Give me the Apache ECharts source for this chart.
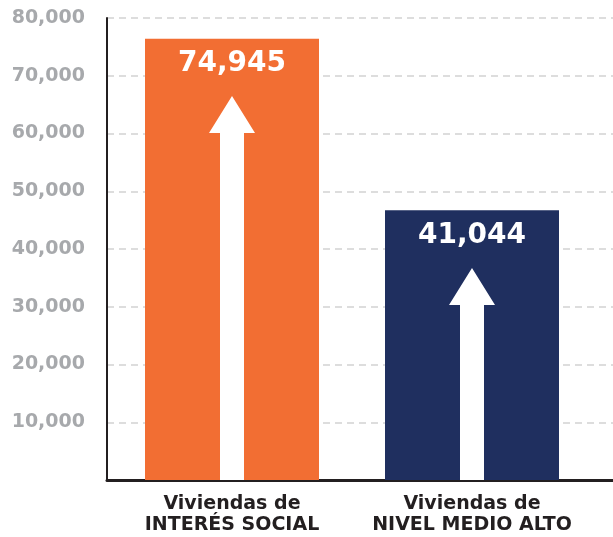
<!DOCTYPE html>
<html><head><meta charset="utf-8">
<script src="https://cdn.jsdelivr.net/npm/echarts@6/dist/echarts.min.js"></script>
<style>html,body{margin:0;padding:0;background:#fff}#c{width:613px;height:537px}</style>
</head><body><div id="c"></div>
<script>
const categories = ['Viviendas de\nINTERÉS SOCIAL', 'Viviendas de\nNIVEL MEDIO ALTO'];
const barValues = [76400, 46700];
const valueLabels = ['74,945', '41,044'];
const arrowTips = [66500, 36700];
const barColors = ['#F26E33', '#1F2F5F'];
const yTickLabels = ['', '10,000', '20,000', '30,000', '40,000', '50,000', '60,000', '70,000', '80,000'];

const FONT = 'DejaVu Sans';
const chart = echarts.init(document.getElementById('c'), null, {renderer: 'canvas'});
chart.setOption({
  animation: false,
  backgroundColor: '#ffffff',
  grid: [
    {left: 112, right: 21, top: 18, bottom: 57},
    {left: 107, right: 0, top: 18, bottom: 57}
  ],
  xAxis: [
    {type: 'category', gridIndex: 0, data: categories,
     axisLine: {show: false}, axisTick: {show: false},
     axisLabel: {fontFamily: FONT, fontWeight: 'bold', fontSize: 19, lineHeight: 21, color: '#231F20', margin: 14, interval: 0}},
    {type: 'category', gridIndex: 1, data: ['x'],
     axisLine: {show: true, lineStyle: {color: '#231F20', width: 3}},
     axisTick: {show: false}, axisLabel: {show: false}, splitLine: {show: false}}
  ],
  yAxis: [
    {type: 'value', gridIndex: 0, min: 0, max: 80000, interval: 10000, show: false, splitLine: {show: false}},
    {type: 'value', gridIndex: 1, min: 0, max: 80000, interval: 10000,
     axisLine: {show: true, lineStyle: {color: '#231F20', width: 2}},
     axisTick: {show: false},
     splitLine: {show: true, lineStyle: {color: '#D2D2D2', width: 1.5, type: [7, 5]}},
     axisLabel: {margin: 22, color: '#A7A9AC', fontFamily: FONT, fontWeight: 'bold', fontSize: 19,
       formatter: (v) => yTickLabels[Math.round(v / 10000)] || ''}}
  ],
  series: [
    {type: 'bar', xAxisIndex: 0, yAxisIndex: 0, barWidth: 174, z: 2,
     data: barValues.map((v, i) => ({value: v, itemStyle: {color: barColors[i]}})),
     label: {show: true, position: 'insideTop', distance: 10, color: '#ffffff',
       fontFamily: FONT, fontWeight: 'bold', fontSize: 28, lineHeight: 30,
       formatter: (p) => valueLabels[p.dataIndex]}},
    {type: 'custom', xAxisIndex: 0, yAxisIndex: 0, z: 3,
     data: arrowTips.map((v, i) => [i, v]),
     renderItem: function (params, api) {
       const tip = api.coord([api.value(0), api.value(1)]);
       const base = api.coord([api.value(0), 0]);
       const cx = tip[0], ty = tip[1];
       const headH = 37, headW = 46, shaftW = 24;
       const by = base[1];
       return {type: 'polygon', shape: {points: [
         [cx, ty], [cx + headW / 2, ty + headH], [cx + shaftW / 2, ty + headH],
         [cx + shaftW / 2, by], [cx - shaftW / 2, by], [cx - shaftW / 2, ty + headH],
         [cx - headW / 2, ty + headH]
       ]}, style: {fill: '#ffffff'}};
     }}
  ]
});
</script></body></html>
